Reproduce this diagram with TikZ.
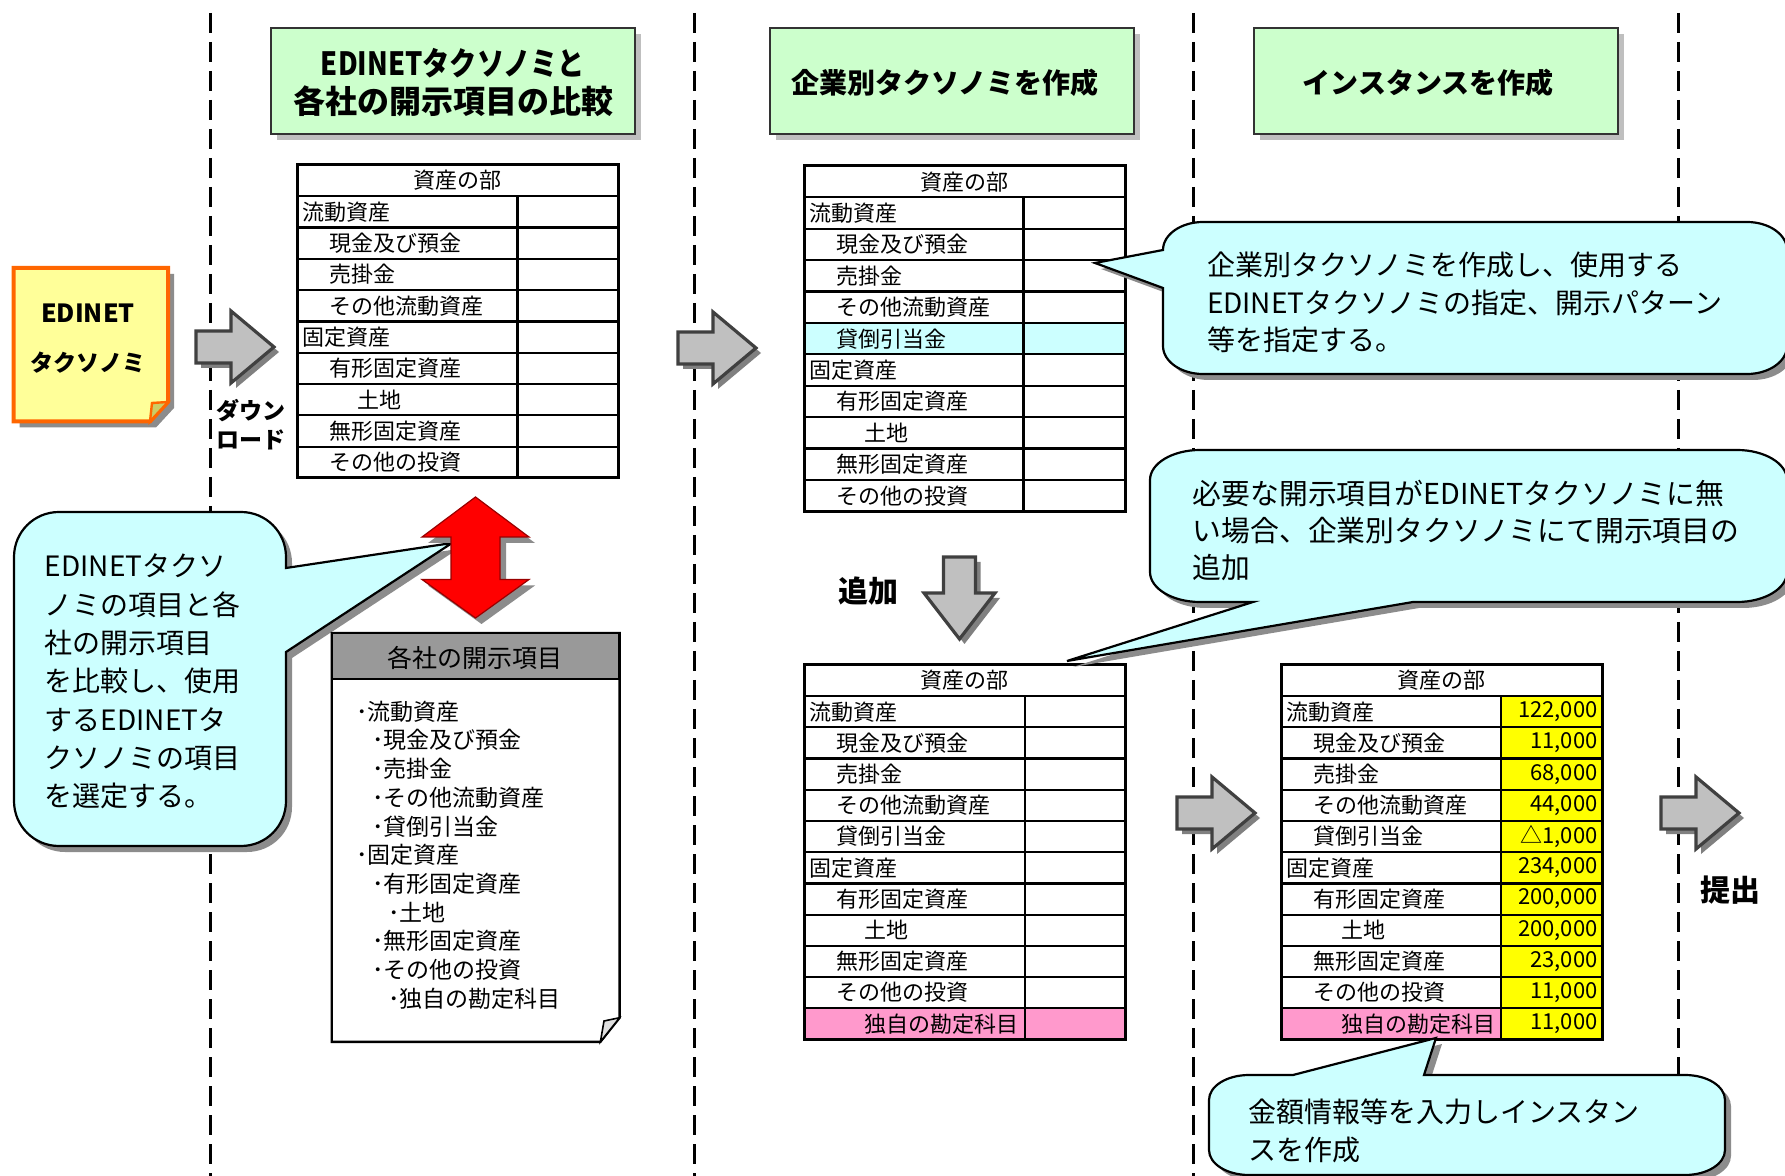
\documentclass[tikz,border=0pt]{standalone}
\usepackage{fontspec}
\usepackage{graphicx}
\newfontfamily\jp{Noto Sans CJK JP}
\usetikzlibrary{shadows}
\definecolor{hdrgreen}{HTML}{CCFFCC}
\definecolor{callcyan}{HTML}{CCFFFF}
\definecolor{docyellow}{HTML}{FFFF99}
\definecolor{docorange}{HTML}{FF6600}
\definecolor{foldolive}{HTML}{CCCC66}
\definecolor{pinkcell}{HTML}{FF99CC}
\definecolor{yelcell}{HTML}{FFFF00}
\definecolor{arrgray}{HTML}{C0C0C0}
\definecolor{arredge}{HTML}{404040}
\definecolor{hdrgray}{HTML}{999999}
\tikzset{
  shd/.style={drop shadow={shadow xshift=3pt,shadow yshift=-3pt,fill=black!45,opacity=1}},
  shdlight/.style={drop shadow={shadow xshift=3pt,shadow yshift=-3pt,fill=black!25,opacity=1}},
  sepline/.style={line width=1.7pt,dash pattern=on 10pt off 4.5pt},
  hdrbox/.style={fill=hdrgreen,draw=black!80,line width=1.2pt,shdlight},
  hdrtxtA/.style={font=\jp\bfseries\fontsize{16}{19}\selectfont},
  hdrtxtB/.style={font=\jp\bfseries\fontsize{14}{17}\selectfont},
  boldlbl/.style={font=\jp\bfseries\fontsize{11.5}{14}\selectfont},
  biglbl/.style={font=\jp\bfseries\fontsize{15}{18}\selectfont},
  celltxt/.style={font=\jp\fontsize{11}{13}\selectfont,anchor=west},
  celltxtc/.style={font=\jp\fontsize{11}{13}\selectfont},
  numtxt/.style={font=\jp\fontsize{11}{13}\selectfont,anchor=east},
  listtxt/.style={font=\jp\fontsize{11.5}{14}\selectfont,anchor=west},
  calltxt/.style={font=\jp\fontsize{14}{17}\selectfont,anchor=west},
  calltxtb/.style={font=\jp\fontsize{14.4}{17}\selectfont,anchor=west},
  callout/.style={fill=callcyan,draw=black,line width=1.1pt,shd},
  innerline/.style={line width=1.1pt},
  outerline/.style={line width=1.5pt},
  blockarrow/.style={fill=arrgray,draw=arredge,line width=1.6pt,
    drop shadow={shadow xshift=2.5pt,shadow yshift=-2.5pt,fill=black!50,opacity=1}},
  rarrowpic/.pic={\path[blockarrow] (0,-16) -- (35,-16) -- (35,-36) -- (78,0) -- (35,36) -- (35,16) -- (0,16) -- cycle;},
  darrowpic/.pic={\path[blockarrow] (-16,0) -- (16,0) -- (16,36) -- (35.5,36) -- (0,82) -- (-35.5,36) -- (-16,36) -- cycle;},
}
\begin{document}
\begin{tikzpicture}[x=0.5pt,y=-0.5pt,every node/.style={inner sep=0pt,font=\jp}]
\useasboundingbox (0,0) rectangle (1785,1176);
\fill[white] (0,0) rectangle (1785,1176);

% column separators
\foreach \xx in {210.7,694.4,1193.5,1678.5} \draw[sepline] (\xx,13) -- (\xx,1176);

% header boxes
\path[hdrbox] (271,28) rectangle (635,134);
\node[hdrtxtA] (h1a) at (453,63) {\scalebox{0.85}[1]{EDINETタクソノミと}};
\node[hdrtxtA] (h1b) at (453,101) {各社の開示項目の比較};
\path[hdrbox] (770,28) rectangle (1134,134);
\node[hdrtxtB] (h2) at (945,83) {企業別タクソノミを作成};
\path[hdrbox] (1254,28) rectangle (1618,134);
\node[hdrtxtB] (h3) at (1428,83) {インスタンスを作成};

% EDINET taxonomy document
\path[shd,fill=docyellow,draw=docorange,line width=2pt] (13.5,268) -- (168,268) -- (168,402) -- (150,421.5) -- (13.5,421.5) -- cycle;
\path[fill=foldolive,draw=docorange,line width=1.2pt] (150,421.5) -- (152,403) -- (168,402) -- cycle;
\node[font=\jp\bfseries\fontsize{12.5}{15}\selectfont] (ed1) at (88,313) {EDINET};
\node[boldlbl] (ed2) at (88,363) {タクソノミ};

% arrow 1 and download label
\pic (ar1) at (196,347) {rarrowpic};
\node[boldlbl,anchor=west] (dl1) at (216.5,411) {ダウン};
\node[boldlbl,anchor=west] (dl2) at (216.5,439.5) {ロード};

% table 1
\node[celltxtc] (t1h) at (457.5,180.65) {資産の部};
\foreach [count=\i] \lab/\ind in {流動資産/0,現金及び預金/1,売掛金/1,その他流動資産/1,固定資産/0,有形固定資産/1,土地/2,無形固定資産/1,その他の投資/1}
  \node[celltxt] (t1r\i) at ({302+27.5*\ind},{165+31.3*\i+15.65}) {\lab};
\foreach \k in {1,...,9} \draw[innerline] (297,{165+31.3*\k}) -- (618,{165+31.3*\k});
\draw[innerline] (517.5,196.3) -- (517.5,478);
\draw[outerline] (297,165) rectangle (618,478);

% callout 1
\path[callout] (59,512) -- (241,512) .. controls (266,512) and (286,532) .. (286,557) -- (286,568) -- (452,543) -- (286,652) -- (286,801) .. controls (286,826) and (266,846) .. (241,846) -- (59,846) .. controls (34,846) and (14,826) .. (14,801) -- (14,557) .. controls (14,532) and (34,512) .. (59,512) -- cycle;
\node[calltxt] (c1a) at (44.6,566) {EDINETタクソ};
\node[calltxt] (c1b) at (44.6,604.5) {ノミの項目と各};
\node[calltxt] (c1c) at (44.6,643) {社の開示項目};
\node[calltxt] (c1d) at (44.6,681) {を比較し、使用};
\node[calltxt] (c1e) at (44.6,719.5) {するEDINETタ};
\node[calltxt] (c1f) at (44.6,758) {クソノミの項目};
\node[calltxt] (c1g) at (44.6,796) {を選定する。};

% red double arrow
\path[shd,fill=red,draw=red!60!black,line width=0.6pt] (475.5,497) -- (529,537) -- (500,537) -- (500,579.5) -- (529,579.5) -- (475.5,618) -- (422,579.5) -- (451,579.5) -- (451,537) -- (422,537) -- cycle;

% company items document
\path[fill=white,draw=black,line width=1.2pt] (331.7,633) -- (619.6,633) -- (619.6,1017.7) -- (600.4,1041.8) -- (331.7,1041.8) -- cycle;
\path[fill=hdrgray,draw=black,line width=1.2pt] (331.7,633) rectangle (619.6,679);
\path[fill=black!12,draw=black,line width=0.8pt] (600.4,1041.8) -- (604,1021) -- (619.6,1017.7) -- cycle;
\node[font=\jp\fontsize{12.5}{15}\selectfont] (dh) at (474.5,658) {各社の開示項目};
\foreach [count=\i] \lab/\ind in {流動資産/0,現金及び預金/1,売掛金/1,その他流動資産/1,貸倒引当金/1,固定資産/0,有形固定資産/1,土地/2,無形固定資産/1,その他の投資/1,独自の勘定科目/2}
  \node[listtxt] (li\i) at ({356+15.8*\ind},{711.5+28.7*(\i-1)}) {･\lab};

% arrow 1b
\pic (ar2) at (678,348) {rarrowpic};

% table 2
\path[fill=callcyan] (804,{166+31.4*5}) rectangle (1125,{166+31.4*6});
\node[celltxtc] (t2h) at (964.5,181.7) {資産の部};
\foreach [count=\i] \lab/\ind in {流動資産/0,現金及び預金/1,売掛金/1,その他流動資産/1,貸倒引当金/1,固定資産/0,有形固定資産/1,土地/2,無形固定資産/1,その他の投資/1}
  \node[celltxt] (t2r\i) at ({809+27.5*\ind},{166+31.4*\i+15.7}) {\lab};
\foreach \k in {1,...,10} \draw[innerline] (804,{166+31.4*\k}) -- (1125,{166+31.4*\k});
\draw[innerline] (1023.5,197.4) -- (1023.5,511.4);
\draw[outerline] (804,166) rectangle (1125,511.4);

% callout 2
\path[callout] (1203,222) -- (1747,222) .. controls (1769,222) and (1787,234.5) .. (1787,250) -- (1787,346) .. controls (1787,361.5) and (1769,374) .. (1747,374) -- (1203,374) .. controls (1181,374) and (1163,361.5) .. (1163,346) -- (1163,288) -- (1095,263) -- (1163,250) .. controls (1163,234.5) and (1181,222) .. (1203,222) -- cycle;
\node[calltxt] (c2a) at (1206.6,265) {企業別タクソノミを作成し、使用する};
\node[calltxt] (c2b) at (1206.6,303) {EDINETタクソノミの指定、開示パターン};
\node[calltxt] (c2c) at (1206.6,340) {等を指定する。};

% add arrow
\node[biglbl] (add) at (868,591) {追加};
\pic (ar3) at (959.5,557) {darrowpic};

% table 3
\path[fill=pinkcell] (804,{665+31.2*11}) rectangle (1125,{665+31.2*12});
\node[celltxtc] (t3h) at (964.5,680.6) {資産の部};
\foreach [count=\i] \lab/\ind in {流動資産/0,現金及び預金/1,売掛金/1,その他流動資産/1,貸倒引当金/1,固定資産/0,有形固定資産/1,土地/2,無形固定資産/1,その他の投資/1,独自の勘定科目/2}
  \node[celltxt] (t3r\i) at ({809+27.5*\ind},{665+31.2*\i+15.6}) {\lab};
\foreach \k in {1,...,11} \draw[innerline] (804,{665+31.2*\k}) -- (1125,{665+31.2*\k});
\draw[innerline] (1025,696.2) -- (1025,1039.4);
\draw[outerline] (804,665) rectangle (1125,1039.4);

% callout 3
\path[callout] (1200,450) -- (1737,450) .. controls (1764.6,450) and (1787,463.4) .. (1787,480) -- (1787,572) .. controls (1787,588.6) and (1764.6,602) .. (1737,602) -- (1413,602) -- (1067,661) -- (1253,602) -- (1200,602) .. controls (1172.4,602) and (1150,588.6) .. (1150,572) -- (1150,480) .. controls (1150,463.4) and (1172.4,450) .. (1200,450) -- cycle;
\node[calltxtb] (c3a) at (1192.5,493) {必要な開示項目がEDINETタクソノミに無};
\node[calltxtb] (c3b) at (1192.5,531) {い場合、企業別タクソノミにて開示項目の};
\node[calltxtb] (c3c) at (1192.5,568) {追加};

% arrow 2
\pic (ar4) at (1177,813) {rarrowpic};

% table 4
\path[fill=yelcell] (1501,696.2) rectangle (1602,1039.4);
\path[fill=pinkcell] (1281,{665+31.2*11}) rectangle (1501,{665+31.2*12});
\node[celltxtc] (t4h) at (1441.5,680.6) {資産の部};
\foreach [count=\i] \lab/\ind/\val in {流動資産/0/{122,000},現金及び預金/1/{11,000},売掛金/1/{68,000},その他流動資産/1/{44,000},貸倒引当金/1/{△1,000},固定資産/0/{234,000},有形固定資産/1/{200,000},土地/2/{200,000},無形固定資産/1/{23,000},その他の投資/1/{11,000},独自の勘定科目/2/{11,000}}
  {\node[celltxt] (t4r\i) at ({1286+27.5*\ind},{665+31.2*\i+15.6}) {\lab};
   \node[numtxt] (t4v\i) at (1598,{665+31.2*\i+15.6}) {\val};}
\foreach \k in {1,...,11} \draw[innerline] (1281,{665+31.2*\k}) -- (1602,{665+31.2*\k});
\draw[innerline] (1501,696.2) -- (1501,1039.4);
\draw[outerline] (1281,665) rectangle (1602,1039.4);

% arrow 3 and submit
\pic (ar5) at (1661,813) {rarrowpic};
\node[biglbl] (sub) at (1730.5,890) {提出};

% callout 4
\path[callout] (1249,1075) -- (1293,1075) -- (1436,1038) -- (1424,1075) -- (1685,1075) .. controls (1707,1075) and (1725,1086) .. (1725,1100) -- (1725,1150) .. controls (1725,1164) and (1707,1175) .. (1685,1175) -- (1249,1175) .. controls (1227,1175) and (1209,1164) .. (1209,1150) -- (1209,1100) .. controls (1209,1086) and (1227,1075) .. (1249,1075) -- cycle;
\node[calltxt] (c4a) at (1248,1112) {金額情報等を入力しインスタン};
\node[calltxt] (c4b) at (1248,1150) {スを作成};
\end{tikzpicture}
\end{document}
